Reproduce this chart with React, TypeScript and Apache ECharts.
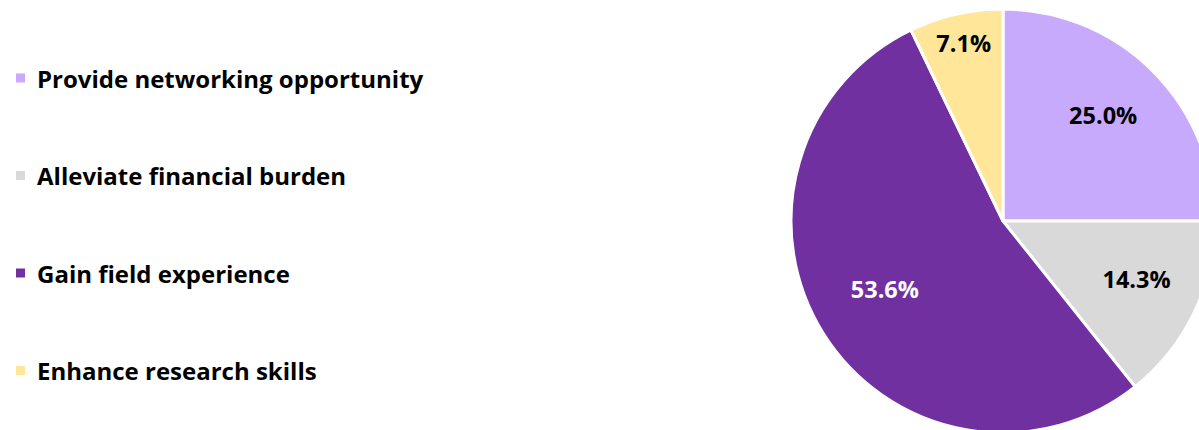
import React, { useEffect, useRef } from "react";
import * as echarts from "echarts";

const categories = [
  "Provide networking opportunity",
  "Alleviate financial burden",
  "Gain field experience",
  "Enhance research skills",
];
const counts = [7, 4, 15, 2];
const colors = ["#C8AAFD", "#D9D9D9", "#7030A0", "#FFE699"];
const labelColors = ["#000000", "#000000", "#FFFFFF", "#000000"];
const labelRadiusRatio = [0.65, 0.68, 0.64, 0.81];

const CX = 1003;
const CY = 221;
const R = 212;
const LABEL_DY = -6;
const FONT = "'Open Sans', sans-serif";

export default function App() {
  const ref = useRef<HTMLDivElement>(null);
  useEffect(() => {
    if (!ref.current) return;
    const chart = echarts.init(ref.current, null, { renderer: "svg" });
    const total = counts.reduce((a, b) => a + b, 0);
    chart.setOption({
      animation: false,
      backgroundColor: "#FFFFFF",
      legend: {
        orient: "vertical",
        left: 14,
        top: 66,
        padding: 0,
        icon: "rect",
        itemWidth: 11,
        itemHeight: 11,
        itemGap: 73.5,
        data: categories,
        textStyle: {
          fontFamily: FONT,
          fontWeight: "bold",
          fontSize: 24,
          lineHeight: 24,
          color: "#000000",
          padding: [0, 0, 0, 6],
        },
      },
      series: [
        {
          type: "pie",
          center: [CX, CY],
          radius: [0, R],
          startAngle: 90,
          clockwise: true,
          itemStyle: { borderColor: "#FFFFFF", borderWidth: 3 },
          label: {
            show: true,
            position: "inside",
            fontFamily: FONT,
            fontWeight: "bold",
            fontSize: 23.5,
            formatter: (p: any) => ((p.value / total) * 100).toFixed(1) + "%",
          },
          labelLine: { show: false },
          emphasis: { disabled: true },
          labelLayout: (params: any) => {
            const lr = params.labelRect;
            const lx = lr.x + lr.width / 2;
            const ly = lr.y + lr.height / 2;
            const k = labelRadiusRatio[params.dataIndex] / 0.5 - 1;
            return { dx: (lx - CX) * k, dy: (ly - CY) * k + LABEL_DY };
          },
          data: categories.map((name, i) => ({
            name,
            value: counts[i],
            itemStyle: { color: colors[i] },
            label: { color: labelColors[i] },
          })),
        },
      ],
    });
    return () => chart.dispose();
  }, []);
  return (
    <div
      ref={ref}
      style={{ position: "absolute", left: 0, top: 0, width: 1199, height: 430 }}
    />
  );
}
